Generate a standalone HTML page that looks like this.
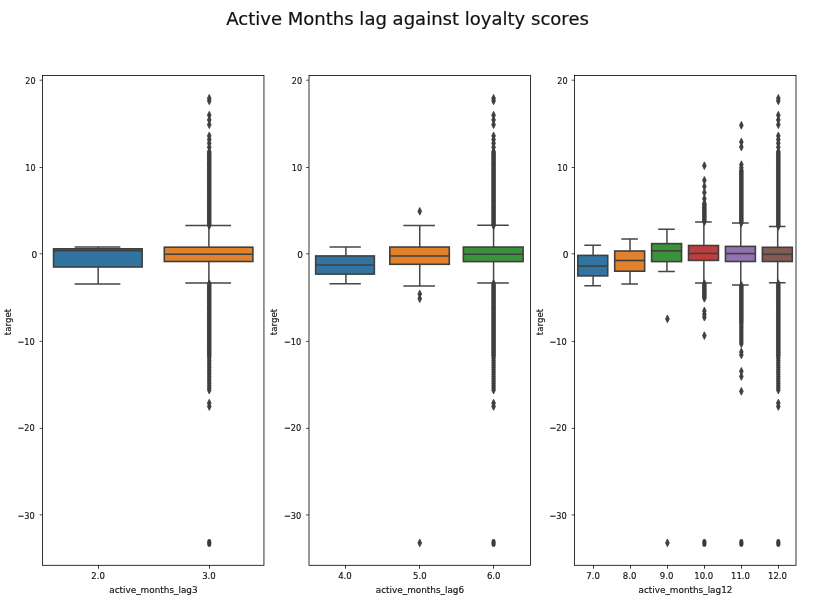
<!DOCTYPE html>
<html><head><meta charset="utf-8"><title>Active Months lag against loyalty scores</title>
<style>
html,body{margin:0;padding:0;background:#fff;}
body{width:825px;height:608px;overflow:hidden;}
svg{display:block;font-family:"DejaVu Sans","Liberation Sans",sans-serif;}
.t{font-size:9px;fill:#111;stroke:#111;stroke-width:0.15px;}
.tk{font-size:9px;fill:#111;stroke:#111;stroke-width:0.15px;}
</style></head><body>
<svg width="825" height="608" viewBox="0 0 825 608">
<rect width="825" height="608" fill="#fff"/>
<text x="407.55" y="24.9" text-anchor="middle" font-size="18.045px" fill="#111" stroke="#111" stroke-width="0.2">Active Months lag against loyalty scores</text>

<g>
<path d="M98.16,247.10V248.80M98.16,267.00V284.10M75.32,247.10H119.61M75.32,284.10H119.61" stroke="#464646" stroke-width="1.5" stroke-linecap="square" fill="none"/>
<rect x="53.57" y="248.80" width="88.58" height="18.20" fill="#3274a1" stroke="#3f3f3f" stroke-width="1.6"/>
<path d="M53.57,250.60H142.15" stroke="#3f3f3f" stroke-width="1.6" fill="none"/>
<path d="M208.89,225.50V247.20M208.89,261.50V283.00M186.04,225.50H230.33M186.04,283.00H230.33" stroke="#464646" stroke-width="1.5" stroke-linecap="square" fill="none"/>
<rect x="164.30" y="247.20" width="88.58" height="14.30" fill="#e1812c" stroke="#3f3f3f" stroke-width="1.6"/>
<path d="M164.30,254.30H252.88" stroke="#3f3f3f" stroke-width="1.6" fill="none"/>
<path d="M209.25,94.45L211.10,98.30L209.25,102.15L207.40,98.30ZM209.25,97.05L211.10,100.90L209.25,104.75L207.40,100.90ZM209.25,111.35L211.10,115.20L209.25,119.05L207.40,115.20ZM209.25,116.05L211.10,119.90L209.25,123.75L207.40,119.90ZM209.25,120.85L211.10,124.70L209.25,128.55L207.40,124.70ZM209.25,132.05L211.10,135.90L209.25,139.75L207.40,135.90ZM209.25,135.75L211.10,139.60L209.25,143.45L207.40,139.60ZM209.25,139.45L211.10,143.30L209.25,147.15L207.40,143.30ZM209.25,143.35L211.10,147.20L209.25,151.05L207.40,147.20ZM209.25,147.65L211.10,151.50L209.25,155.35L207.40,151.50ZM209.25,148.84L211.10,152.69L209.25,156.54L207.40,152.69ZM209.25,150.04L211.10,153.89L209.25,157.74L207.40,153.89ZM209.25,151.23L211.10,155.08L209.25,158.93L207.40,155.08ZM209.25,152.42L211.10,156.27L209.25,160.12L207.40,156.27ZM209.25,153.62L211.10,157.47L209.25,161.32L207.40,157.47ZM209.25,154.81L211.10,158.66L209.25,162.51L207.40,158.66ZM209.25,156.00L211.10,159.85L209.25,163.70L207.40,159.85ZM209.25,157.20L211.10,161.05L209.25,164.90L207.40,161.05ZM209.25,158.39L211.10,162.24L209.25,166.09L207.40,162.24ZM209.25,159.59L211.10,163.44L209.25,167.29L207.40,163.44ZM209.25,160.78L211.10,164.63L209.25,168.48L207.40,164.63ZM209.25,161.97L211.10,165.82L209.25,169.67L207.40,165.82ZM209.25,163.17L211.10,167.02L209.25,170.87L207.40,167.02ZM209.25,164.36L211.10,168.21L209.25,172.06L207.40,168.21ZM209.25,165.55L211.10,169.40L209.25,173.25L207.40,169.40ZM209.25,166.75L211.10,170.60L209.25,174.45L207.40,170.60ZM209.25,167.94L211.10,171.79L209.25,175.64L207.40,171.79ZM209.25,169.13L211.10,172.98L209.25,176.83L207.40,172.98ZM209.25,170.33L211.10,174.18L209.25,178.03L207.40,174.18ZM209.25,171.52L211.10,175.37L209.25,179.22L207.40,175.37ZM209.25,172.71L211.10,176.56L209.25,180.41L207.40,176.56ZM209.25,173.91L211.10,177.76L209.25,181.61L207.40,177.76ZM209.25,175.10L211.10,178.95L209.25,182.80L207.40,178.95ZM209.25,176.30L211.10,180.15L209.25,184.00L207.40,180.15ZM209.25,177.49L211.10,181.34L209.25,185.19L207.40,181.34ZM209.25,178.68L211.10,182.53L209.25,186.38L207.40,182.53ZM209.25,179.88L211.10,183.73L209.25,187.58L207.40,183.73ZM209.25,181.07L211.10,184.92L209.25,188.77L207.40,184.92ZM209.25,182.26L211.10,186.11L209.25,189.96L207.40,186.11ZM209.25,183.46L211.10,187.31L209.25,191.16L207.40,187.31ZM209.25,184.65L211.10,188.50L209.25,192.35L207.40,188.50ZM209.25,185.84L211.10,189.69L209.25,193.54L207.40,189.69ZM209.25,187.04L211.10,190.89L209.25,194.74L207.40,190.89ZM209.25,188.23L211.10,192.08L209.25,195.93L207.40,192.08ZM209.25,189.42L211.10,193.27L209.25,197.12L207.40,193.27ZM209.25,190.62L211.10,194.47L209.25,198.32L207.40,194.47ZM209.25,191.81L211.10,195.66L209.25,199.51L207.40,195.66ZM209.25,193.00L211.10,196.85L209.25,200.70L207.40,196.85ZM209.25,194.20L211.10,198.05L209.25,201.90L207.40,198.05ZM209.25,195.39L211.10,199.24L209.25,203.09L207.40,199.24ZM209.25,196.59L211.10,200.44L209.25,204.29L207.40,200.44ZM209.25,197.78L211.10,201.63L209.25,205.48L207.40,201.63ZM209.25,198.97L211.10,202.82L209.25,206.67L207.40,202.82ZM209.25,200.17L211.10,204.02L209.25,207.87L207.40,204.02ZM209.25,201.36L211.10,205.21L209.25,209.06L207.40,205.21ZM209.25,202.55L211.10,206.40L209.25,210.25L207.40,206.40ZM209.25,203.75L211.10,207.60L209.25,211.45L207.40,207.60ZM209.25,204.94L211.10,208.79L209.25,212.64L207.40,208.79ZM209.25,206.13L211.10,209.98L209.25,213.83L207.40,209.98ZM209.25,207.33L211.10,211.18L209.25,215.03L207.40,211.18ZM209.25,208.52L211.10,212.37L209.25,216.22L207.40,212.37ZM209.25,209.71L211.10,213.56L209.25,217.41L207.40,213.56ZM209.25,210.91L211.10,214.76L209.25,218.61L207.40,214.76ZM209.25,212.10L211.10,215.95L209.25,219.80L207.40,215.95ZM209.25,213.30L211.10,217.15L209.25,221.00L207.40,217.15ZM209.25,214.49L211.10,218.34L209.25,222.19L207.40,218.34ZM209.25,215.68L211.10,219.53L209.25,223.38L207.40,219.53ZM209.25,216.88L211.10,220.73L209.25,224.58L207.40,220.73ZM209.25,218.07L211.10,221.92L209.25,225.77L207.40,221.92ZM209.25,219.26L211.10,223.11L209.25,226.96L207.40,223.11ZM209.25,220.46L211.10,224.31L209.25,228.16L207.40,224.31ZM209.25,221.65L211.10,225.50L209.25,229.35L207.40,225.50ZM209.25,279.75L211.10,283.60L209.25,287.45L207.40,283.60ZM209.25,280.94L211.10,284.79L209.25,288.64L207.40,284.79ZM209.25,282.13L211.10,285.98L209.25,289.83L207.40,285.98ZM209.25,283.33L211.10,287.18L209.25,291.03L207.40,287.18ZM209.25,284.52L211.10,288.37L209.25,292.22L207.40,288.37ZM209.25,285.71L211.10,289.56L209.25,293.41L207.40,289.56ZM209.25,286.90L211.10,290.75L209.25,294.60L207.40,290.75ZM209.25,288.09L211.10,291.94L209.25,295.79L207.40,291.94ZM209.25,289.28L211.10,293.13L209.25,296.98L207.40,293.13ZM209.25,290.48L211.10,294.33L209.25,298.18L207.40,294.33ZM209.25,291.67L211.10,295.52L209.25,299.37L207.40,295.52ZM209.25,292.86L211.10,296.71L209.25,300.56L207.40,296.71ZM209.25,294.05L211.10,297.90L209.25,301.75L207.40,297.90ZM209.25,295.24L211.10,299.09L209.25,302.94L207.40,299.09ZM209.25,296.44L211.10,300.29L209.25,304.14L207.40,300.29ZM209.25,297.63L211.10,301.48L209.25,305.33L207.40,301.48ZM209.25,298.82L211.10,302.67L209.25,306.52L207.40,302.67ZM209.25,300.01L211.10,303.86L209.25,307.71L207.40,303.86ZM209.25,301.20L211.10,305.05L209.25,308.90L207.40,305.05ZM209.25,302.39L211.10,306.24L209.25,310.09L207.40,306.24ZM209.25,303.59L211.10,307.44L209.25,311.29L207.40,307.44ZM209.25,304.78L211.10,308.63L209.25,312.48L207.40,308.63ZM209.25,305.97L211.10,309.82L209.25,313.67L207.40,309.82ZM209.25,307.16L211.10,311.01L209.25,314.86L207.40,311.01ZM209.25,308.35L211.10,312.20L209.25,316.05L207.40,312.20ZM209.25,309.55L211.10,313.40L209.25,317.25L207.40,313.40ZM209.25,310.74L211.10,314.59L209.25,318.44L207.40,314.59ZM209.25,311.93L211.10,315.78L209.25,319.63L207.40,315.78ZM209.25,313.12L211.10,316.97L209.25,320.82L207.40,316.97ZM209.25,314.31L211.10,318.16L209.25,322.01L207.40,318.16ZM209.25,315.50L211.10,319.35L209.25,323.20L207.40,319.35ZM209.25,316.70L211.10,320.55L209.25,324.40L207.40,320.55ZM209.25,317.89L211.10,321.74L209.25,325.59L207.40,321.74ZM209.25,319.08L211.10,322.93L209.25,326.78L207.40,322.93ZM209.25,320.27L211.10,324.12L209.25,327.97L207.40,324.12ZM209.25,321.46L211.10,325.31L209.25,329.16L207.40,325.31ZM209.25,322.65L211.10,326.50L209.25,330.35L207.40,326.50ZM209.25,323.85L211.10,327.70L209.25,331.55L207.40,327.70ZM209.25,325.04L211.10,328.89L209.25,332.74L207.40,328.89ZM209.25,326.23L211.10,330.08L209.25,333.93L207.40,330.08ZM209.25,327.42L211.10,331.27L209.25,335.12L207.40,331.27ZM209.25,328.61L211.10,332.46L209.25,336.31L207.40,332.46ZM209.25,329.81L211.10,333.66L209.25,337.51L207.40,333.66ZM209.25,331.00L211.10,334.85L209.25,338.70L207.40,334.85ZM209.25,332.19L211.10,336.04L209.25,339.89L207.40,336.04ZM209.25,333.38L211.10,337.23L209.25,341.08L207.40,337.23ZM209.25,334.57L211.10,338.42L209.25,342.27L207.40,338.42ZM209.25,335.76L211.10,339.61L209.25,343.46L207.40,339.61ZM209.25,336.96L211.10,340.81L209.25,344.66L207.40,340.81ZM209.25,338.15L211.10,342.00L209.25,345.85L207.40,342.00ZM209.25,339.34L211.10,343.19L209.25,347.04L207.40,343.19ZM209.25,340.53L211.10,344.38L209.25,348.23L207.40,344.38ZM209.25,341.72L211.10,345.57L209.25,349.42L207.40,345.57ZM209.25,342.92L211.10,346.77L209.25,350.62L207.40,346.77ZM209.25,344.11L211.10,347.96L209.25,351.81L207.40,347.96ZM209.25,345.30L211.10,349.15L209.25,353.00L207.40,349.15ZM209.25,346.49L211.10,350.34L209.25,354.19L207.40,350.34ZM209.25,347.68L211.10,351.53L209.25,355.38L207.40,351.53ZM209.25,348.87L211.10,352.72L209.25,356.57L207.40,352.72ZM209.25,350.07L211.10,353.92L209.25,357.77L207.40,353.92ZM209.25,351.26L211.10,355.11L209.25,358.96L207.40,355.11ZM209.25,352.45L211.10,356.30L209.25,360.15L207.40,356.30ZM209.25,354.45L211.10,358.30L209.25,362.15L207.40,358.30ZM209.25,356.72L211.10,360.57L209.25,364.42L207.40,360.57ZM209.25,358.99L211.10,362.84L209.25,366.69L207.40,362.84ZM209.25,361.26L211.10,365.11L209.25,368.96L207.40,365.11ZM209.25,363.54L211.10,367.39L209.25,371.24L207.40,367.39ZM209.25,365.81L211.10,369.66L209.25,373.51L207.40,369.66ZM209.25,368.08L211.10,371.93L209.25,375.78L207.40,371.93ZM209.25,370.35L211.10,374.20L209.25,378.05L207.40,374.20ZM209.25,372.62L211.10,376.47L209.25,380.32L207.40,376.47ZM209.25,374.89L211.10,378.74L209.25,382.59L207.40,378.74ZM209.25,377.16L211.10,381.01L209.25,384.86L207.40,381.01ZM209.25,379.44L211.10,383.29L209.25,387.14L207.40,383.29ZM209.25,381.71L211.10,385.56L209.25,389.41L207.40,385.56ZM209.25,383.98L211.10,387.83L209.25,391.68L207.40,387.83ZM209.25,386.25L211.10,390.10L209.25,393.95L207.40,390.10ZM209.25,399.25L211.10,403.10L209.25,406.95L207.40,403.10ZM209.25,402.65L211.10,406.50L209.25,410.35L207.40,406.50Z" fill="#3f3f3f" stroke="#3f3f3f" stroke-width="0.85" stroke-linejoin="miter"/>
<ellipse cx="209.25" cy="542.90" rx="2.15" ry="3.9" fill="#3a3a3a"/>
<rect x="42.50" y="75.5" width="221.45" height="489.80" fill="none" stroke="#000" stroke-width="0.8"/>
<path d="M39.60,80.20H42.50" stroke="#222" stroke-width="0.8"/>
<text class="tk" transform="translate(35.55,83.90) scale(0.9,1.05)" text-anchor="end">20</text>
<path d="M39.60,167.50H42.50" stroke="#222" stroke-width="0.8"/>
<text class="tk" transform="translate(35.60,171.45) scale(0.9,1.05)" text-anchor="end">10</text>
<path d="M39.60,253.80H42.50" stroke="#222" stroke-width="0.8"/>
<text class="tk" transform="translate(37.35,257.85) scale(1.0,1.05)" text-anchor="end">0</text>
<path d="M39.60,341.40H42.50" stroke="#222" stroke-width="0.8"/>
<text class="tk" transform="translate(34.85,345.10) scale(0.915,1.05)" text-anchor="end">−10</text>
<path d="M39.60,428.40H42.50" stroke="#222" stroke-width="0.8"/>
<text class="tk" transform="translate(34.85,431.45) scale(0.915,1.05)" text-anchor="end">−20</text>
<path d="M39.60,514.90H42.50" stroke="#222" stroke-width="0.8"/>
<text class="tk" transform="translate(34.80,518.85) scale(0.915,1.05)" text-anchor="end">−30</text>
<path d="M98.50,565.3V568.70" stroke="#000" stroke-width="0.8"/>
<text class="tk" transform="translate(98.07,579.3) scale(0.95,1.05)" text-anchor="middle">2.0</text>
<path d="M209.50,565.3V568.70" stroke="#000" stroke-width="0.8"/>
<text class="tk" transform="translate(208.97,579.3) scale(0.95,1.05)" text-anchor="middle">3.0</text>
<text class="t" transform="translate(153.42,592.7) scale(0.986,1.03)" text-anchor="middle">active_months_lag3</text>
<text class="t" transform="translate(10.90,322.00) rotate(-90) scale(0.97,1)" text-anchor="middle">target</text>
</g>
<g>
<path d="M345.92,246.90V255.95M345.92,274.10V283.80M330.25,246.90H360.08M330.25,283.80H360.08" stroke="#464646" stroke-width="1.5" stroke-linecap="square" fill="none"/>
<rect x="315.68" y="255.95" width="58.67" height="18.15" fill="#3274a1" stroke="#3f3f3f" stroke-width="1.6"/>
<path d="M315.68,265.00H374.35" stroke="#3f3f3f" stroke-width="1.6" fill="none"/>
<path d="M419.75,225.50V247.05M419.75,264.30V285.90M404.08,225.50H434.22M404.08,285.90H434.22" stroke="#464646" stroke-width="1.5" stroke-linecap="square" fill="none"/>
<rect x="389.82" y="247.05" width="59.47" height="17.25" fill="#e1812c" stroke="#3f3f3f" stroke-width="1.6"/>
<path d="M389.82,255.95H449.28" stroke="#3f3f3f" stroke-width="1.6" fill="none"/>
<path d="M419.75,207.45L421.60,211.30L419.75,215.15L417.90,211.30ZM419.75,290.15L421.60,294.00L419.75,297.85L417.90,294.00ZM419.75,294.85L421.60,298.70L419.75,302.55L417.90,298.70ZM419.75,539.05L421.60,542.90L419.75,546.75L417.90,542.90Z" fill="#3f3f3f" stroke="#3f3f3f" stroke-width="0.85" stroke-linejoin="miter"/>
<path d="M493.58,225.30V247.05M493.58,261.60V283.00M477.92,225.30H508.05M477.92,283.00H508.05" stroke="#464646" stroke-width="1.5" stroke-linecap="square" fill="none"/>
<rect x="463.35" y="247.05" width="59.77" height="14.55" fill="#3a923a" stroke="#3f3f3f" stroke-width="1.6"/>
<path d="M463.35,254.20H523.12" stroke="#3f3f3f" stroke-width="1.6" fill="none"/>
<path d="M493.58,94.45L495.43,98.30L493.58,102.15L491.73,98.30ZM493.58,97.05L495.43,100.90L493.58,104.75L491.73,100.90ZM493.58,111.35L495.43,115.20L493.58,119.05L491.73,115.20ZM493.58,116.05L495.43,119.90L493.58,123.75L491.73,119.90ZM493.58,120.85L495.43,124.70L493.58,128.55L491.73,124.70ZM493.58,132.05L495.43,135.90L493.58,139.75L491.73,135.90ZM493.58,135.75L495.43,139.60L493.58,143.45L491.73,139.60ZM493.58,139.45L495.43,143.30L493.58,147.15L491.73,143.30ZM493.58,143.35L495.43,147.20L493.58,151.05L491.73,147.20ZM493.58,147.65L495.43,151.50L493.58,155.35L491.73,151.50ZM493.58,148.84L495.43,152.69L493.58,156.54L491.73,152.69ZM493.58,150.04L495.43,153.89L493.58,157.74L491.73,153.89ZM493.58,151.23L495.43,155.08L493.58,158.93L491.73,155.08ZM493.58,152.42L495.43,156.27L493.58,160.12L491.73,156.27ZM493.58,153.62L495.43,157.47L493.58,161.32L491.73,157.47ZM493.58,154.81L495.43,158.66L493.58,162.51L491.73,158.66ZM493.58,156.00L495.43,159.85L493.58,163.70L491.73,159.85ZM493.58,157.20L495.43,161.05L493.58,164.90L491.73,161.05ZM493.58,158.39L495.43,162.24L493.58,166.09L491.73,162.24ZM493.58,159.59L495.43,163.44L493.58,167.29L491.73,163.44ZM493.58,160.78L495.43,164.63L493.58,168.48L491.73,164.63ZM493.58,161.97L495.43,165.82L493.58,169.67L491.73,165.82ZM493.58,163.17L495.43,167.02L493.58,170.87L491.73,167.02ZM493.58,164.36L495.43,168.21L493.58,172.06L491.73,168.21ZM493.58,165.55L495.43,169.40L493.58,173.25L491.73,169.40ZM493.58,166.75L495.43,170.60L493.58,174.45L491.73,170.60ZM493.58,167.94L495.43,171.79L493.58,175.64L491.73,171.79ZM493.58,169.13L495.43,172.98L493.58,176.83L491.73,172.98ZM493.58,170.33L495.43,174.18L493.58,178.03L491.73,174.18ZM493.58,171.52L495.43,175.37L493.58,179.22L491.73,175.37ZM493.58,172.71L495.43,176.56L493.58,180.41L491.73,176.56ZM493.58,173.91L495.43,177.76L493.58,181.61L491.73,177.76ZM493.58,175.10L495.43,178.95L493.58,182.80L491.73,178.95ZM493.58,176.30L495.43,180.15L493.58,184.00L491.73,180.15ZM493.58,177.49L495.43,181.34L493.58,185.19L491.73,181.34ZM493.58,178.68L495.43,182.53L493.58,186.38L491.73,182.53ZM493.58,179.88L495.43,183.73L493.58,187.58L491.73,183.73ZM493.58,181.07L495.43,184.92L493.58,188.77L491.73,184.92ZM493.58,182.26L495.43,186.11L493.58,189.96L491.73,186.11ZM493.58,183.46L495.43,187.31L493.58,191.16L491.73,187.31ZM493.58,184.65L495.43,188.50L493.58,192.35L491.73,188.50ZM493.58,185.84L495.43,189.69L493.58,193.54L491.73,189.69ZM493.58,187.04L495.43,190.89L493.58,194.74L491.73,190.89ZM493.58,188.23L495.43,192.08L493.58,195.93L491.73,192.08ZM493.58,189.42L495.43,193.27L493.58,197.12L491.73,193.27ZM493.58,190.62L495.43,194.47L493.58,198.32L491.73,194.47ZM493.58,191.81L495.43,195.66L493.58,199.51L491.73,195.66ZM493.58,193.00L495.43,196.85L493.58,200.70L491.73,196.85ZM493.58,194.20L495.43,198.05L493.58,201.90L491.73,198.05ZM493.58,195.39L495.43,199.24L493.58,203.09L491.73,199.24ZM493.58,196.59L495.43,200.44L493.58,204.29L491.73,200.44ZM493.58,197.78L495.43,201.63L493.58,205.48L491.73,201.63ZM493.58,198.97L495.43,202.82L493.58,206.67L491.73,202.82ZM493.58,200.17L495.43,204.02L493.58,207.87L491.73,204.02ZM493.58,201.36L495.43,205.21L493.58,209.06L491.73,205.21ZM493.58,202.55L495.43,206.40L493.58,210.25L491.73,206.40ZM493.58,203.75L495.43,207.60L493.58,211.45L491.73,207.60ZM493.58,204.94L495.43,208.79L493.58,212.64L491.73,208.79ZM493.58,206.13L495.43,209.98L493.58,213.83L491.73,209.98ZM493.58,207.33L495.43,211.18L493.58,215.03L491.73,211.18ZM493.58,208.52L495.43,212.37L493.58,216.22L491.73,212.37ZM493.58,209.71L495.43,213.56L493.58,217.41L491.73,213.56ZM493.58,210.91L495.43,214.76L493.58,218.61L491.73,214.76ZM493.58,212.10L495.43,215.95L493.58,219.80L491.73,215.95ZM493.58,213.30L495.43,217.15L493.58,221.00L491.73,217.15ZM493.58,214.49L495.43,218.34L493.58,222.19L491.73,218.34ZM493.58,215.68L495.43,219.53L493.58,223.38L491.73,219.53ZM493.58,216.88L495.43,220.73L493.58,224.58L491.73,220.73ZM493.58,218.07L495.43,221.92L493.58,225.77L491.73,221.92ZM493.58,219.26L495.43,223.11L493.58,226.96L491.73,223.11ZM493.58,220.46L495.43,224.31L493.58,228.16L491.73,224.31ZM493.58,221.65L495.43,225.50L493.58,229.35L491.73,225.50ZM493.58,279.75L495.43,283.60L493.58,287.45L491.73,283.60ZM493.58,280.94L495.43,284.79L493.58,288.64L491.73,284.79ZM493.58,282.13L495.43,285.98L493.58,289.83L491.73,285.98ZM493.58,283.33L495.43,287.18L493.58,291.03L491.73,287.18ZM493.58,284.52L495.43,288.37L493.58,292.22L491.73,288.37ZM493.58,285.71L495.43,289.56L493.58,293.41L491.73,289.56ZM493.58,286.90L495.43,290.75L493.58,294.60L491.73,290.75ZM493.58,288.09L495.43,291.94L493.58,295.79L491.73,291.94ZM493.58,289.28L495.43,293.13L493.58,296.98L491.73,293.13ZM493.58,290.48L495.43,294.33L493.58,298.18L491.73,294.33ZM493.58,291.67L495.43,295.52L493.58,299.37L491.73,295.52ZM493.58,292.86L495.43,296.71L493.58,300.56L491.73,296.71ZM493.58,294.05L495.43,297.90L493.58,301.75L491.73,297.90ZM493.58,295.24L495.43,299.09L493.58,302.94L491.73,299.09ZM493.58,296.44L495.43,300.29L493.58,304.14L491.73,300.29ZM493.58,297.63L495.43,301.48L493.58,305.33L491.73,301.48ZM493.58,298.82L495.43,302.67L493.58,306.52L491.73,302.67ZM493.58,300.01L495.43,303.86L493.58,307.71L491.73,303.86ZM493.58,301.20L495.43,305.05L493.58,308.90L491.73,305.05ZM493.58,302.39L495.43,306.24L493.58,310.09L491.73,306.24ZM493.58,303.59L495.43,307.44L493.58,311.29L491.73,307.44ZM493.58,304.78L495.43,308.63L493.58,312.48L491.73,308.63ZM493.58,305.97L495.43,309.82L493.58,313.67L491.73,309.82ZM493.58,307.16L495.43,311.01L493.58,314.86L491.73,311.01ZM493.58,308.35L495.43,312.20L493.58,316.05L491.73,312.20ZM493.58,309.55L495.43,313.40L493.58,317.25L491.73,313.40ZM493.58,310.74L495.43,314.59L493.58,318.44L491.73,314.59ZM493.58,311.93L495.43,315.78L493.58,319.63L491.73,315.78ZM493.58,313.12L495.43,316.97L493.58,320.82L491.73,316.97ZM493.58,314.31L495.43,318.16L493.58,322.01L491.73,318.16ZM493.58,315.50L495.43,319.35L493.58,323.20L491.73,319.35ZM493.58,316.70L495.43,320.55L493.58,324.40L491.73,320.55ZM493.58,317.89L495.43,321.74L493.58,325.59L491.73,321.74ZM493.58,319.08L495.43,322.93L493.58,326.78L491.73,322.93ZM493.58,320.27L495.43,324.12L493.58,327.97L491.73,324.12ZM493.58,321.46L495.43,325.31L493.58,329.16L491.73,325.31ZM493.58,322.65L495.43,326.50L493.58,330.35L491.73,326.50ZM493.58,323.85L495.43,327.70L493.58,331.55L491.73,327.70ZM493.58,325.04L495.43,328.89L493.58,332.74L491.73,328.89ZM493.58,326.23L495.43,330.08L493.58,333.93L491.73,330.08ZM493.58,327.42L495.43,331.27L493.58,335.12L491.73,331.27ZM493.58,328.61L495.43,332.46L493.58,336.31L491.73,332.46ZM493.58,329.81L495.43,333.66L493.58,337.51L491.73,333.66ZM493.58,331.00L495.43,334.85L493.58,338.70L491.73,334.85ZM493.58,332.19L495.43,336.04L493.58,339.89L491.73,336.04ZM493.58,333.38L495.43,337.23L493.58,341.08L491.73,337.23ZM493.58,334.57L495.43,338.42L493.58,342.27L491.73,338.42ZM493.58,335.76L495.43,339.61L493.58,343.46L491.73,339.61ZM493.58,336.96L495.43,340.81L493.58,344.66L491.73,340.81ZM493.58,338.15L495.43,342.00L493.58,345.85L491.73,342.00ZM493.58,339.34L495.43,343.19L493.58,347.04L491.73,343.19ZM493.58,340.53L495.43,344.38L493.58,348.23L491.73,344.38ZM493.58,341.72L495.43,345.57L493.58,349.42L491.73,345.57ZM493.58,342.92L495.43,346.77L493.58,350.62L491.73,346.77ZM493.58,344.11L495.43,347.96L493.58,351.81L491.73,347.96ZM493.58,345.30L495.43,349.15L493.58,353.00L491.73,349.15ZM493.58,346.49L495.43,350.34L493.58,354.19L491.73,350.34ZM493.58,347.68L495.43,351.53L493.58,355.38L491.73,351.53ZM493.58,348.87L495.43,352.72L493.58,356.57L491.73,352.72ZM493.58,350.07L495.43,353.92L493.58,357.77L491.73,353.92ZM493.58,351.26L495.43,355.11L493.58,358.96L491.73,355.11ZM493.58,352.45L495.43,356.30L493.58,360.15L491.73,356.30ZM493.58,354.45L495.43,358.30L493.58,362.15L491.73,358.30ZM493.58,356.72L495.43,360.57L493.58,364.42L491.73,360.57ZM493.58,358.99L495.43,362.84L493.58,366.69L491.73,362.84ZM493.58,361.26L495.43,365.11L493.58,368.96L491.73,365.11ZM493.58,363.54L495.43,367.39L493.58,371.24L491.73,367.39ZM493.58,365.81L495.43,369.66L493.58,373.51L491.73,369.66ZM493.58,368.08L495.43,371.93L493.58,375.78L491.73,371.93ZM493.58,370.35L495.43,374.20L493.58,378.05L491.73,374.20ZM493.58,372.62L495.43,376.47L493.58,380.32L491.73,376.47ZM493.58,374.89L495.43,378.74L493.58,382.59L491.73,378.74ZM493.58,377.16L495.43,381.01L493.58,384.86L491.73,381.01ZM493.58,379.44L495.43,383.29L493.58,387.14L491.73,383.29ZM493.58,381.71L495.43,385.56L493.58,389.41L491.73,385.56ZM493.58,383.98L495.43,387.83L493.58,391.68L491.73,387.83ZM493.58,386.25L495.43,390.10L493.58,393.95L491.73,390.10ZM493.58,399.25L495.43,403.10L493.58,406.95L491.73,403.10ZM493.58,402.65L495.43,406.50L493.58,410.35L491.73,406.50Z" fill="#3f3f3f" stroke="#3f3f3f" stroke-width="0.85" stroke-linejoin="miter"/>
<ellipse cx="493.58" cy="542.90" rx="2.15" ry="3.9" fill="#3a3a3a"/>
<rect x="309.00" y="75.5" width="221.50" height="489.80" fill="none" stroke="#000" stroke-width="0.8"/>
<path d="M306.10,80.20H309.00" stroke="#222" stroke-width="0.8"/>
<text class="tk" transform="translate(302.05,83.90) scale(0.9,1.05)" text-anchor="end">20</text>
<path d="M306.10,167.50H309.00" stroke="#222" stroke-width="0.8"/>
<text class="tk" transform="translate(302.10,171.45) scale(0.9,1.05)" text-anchor="end">10</text>
<path d="M306.10,253.80H309.00" stroke="#222" stroke-width="0.8"/>
<text class="tk" transform="translate(302.95,257.85) scale(1.0,1.05)" text-anchor="end">0</text>
<path d="M306.10,341.40H309.00" stroke="#222" stroke-width="0.8"/>
<text class="tk" transform="translate(301.35,345.10) scale(0.915,1.05)" text-anchor="end">−10</text>
<path d="M306.10,428.40H309.00" stroke="#222" stroke-width="0.8"/>
<text class="tk" transform="translate(301.35,431.45) scale(0.915,1.05)" text-anchor="end">−20</text>
<path d="M306.10,514.90H309.00" stroke="#222" stroke-width="0.8"/>
<text class="tk" transform="translate(301.30,518.85) scale(0.915,1.05)" text-anchor="end">−30</text>
<path d="M345.50,565.3V568.70" stroke="#000" stroke-width="0.8"/>
<text class="tk" transform="translate(344.92,579.3) scale(0.95,1.05)" text-anchor="middle">4.0</text>
<path d="M419.50,565.3V568.70" stroke="#000" stroke-width="0.8"/>
<text class="tk" transform="translate(419.82,579.3) scale(0.95,1.05)" text-anchor="middle">5.0</text>
<path d="M493.50,565.3V568.70" stroke="#000" stroke-width="0.8"/>
<text class="tk" transform="translate(493.67,579.3) scale(0.95,1.05)" text-anchor="middle">6.0</text>
<text class="t" transform="translate(419.95,592.7) scale(0.986,1.03)" text-anchor="middle">active_months_lag6</text>
<text class="t" transform="translate(277.40,322.00) rotate(-90) scale(0.97,1)" text-anchor="middle">target</text>
</g>
<g>
<path d="M593.11,245.20V255.40M593.11,275.90V285.80M585.08,245.20H600.24M585.08,285.80H600.24" stroke="#464646" stroke-width="1.5" stroke-linecap="square" fill="none"/>
<rect x="577.79" y="255.40" width="29.93" height="20.50" fill="#3274a1" stroke="#3f3f3f" stroke-width="1.6"/>
<path d="M577.79,266.10H607.73" stroke="#3f3f3f" stroke-width="1.6" fill="none"/>
<path d="M630.02,239.00V251.00M630.02,271.20V284.00M621.99,239.00H637.16M621.99,284.00H637.16" stroke="#464646" stroke-width="1.5" stroke-linecap="square" fill="none"/>
<rect x="614.71" y="251.00" width="29.93" height="20.20" fill="#e1812c" stroke="#3f3f3f" stroke-width="1.6"/>
<path d="M614.71,260.50H644.64" stroke="#3f3f3f" stroke-width="1.6" fill="none"/>
<path d="M666.94,229.20V243.60M666.94,261.60V271.50M658.91,229.20H674.07M658.91,271.50H674.07" stroke="#464646" stroke-width="1.5" stroke-linecap="square" fill="none"/>
<rect x="651.62" y="243.60" width="29.93" height="18.00" fill="#3a923a" stroke="#3f3f3f" stroke-width="1.6"/>
<path d="M651.62,250.80H681.56" stroke="#3f3f3f" stroke-width="1.6" fill="none"/>
<path d="M667.42,315.05L669.27,318.90L667.42,322.75L665.57,318.90ZM667.42,539.05L669.27,542.90L667.42,546.75L665.57,542.90Z" fill="#3f3f3f" stroke="#3f3f3f" stroke-width="0.85" stroke-linejoin="miter"/>
<path d="M703.86,221.90V245.50M703.86,260.40V283.10M695.82,221.90H710.99M695.82,283.10H710.99" stroke="#464646" stroke-width="1.5" stroke-linecap="square" fill="none"/>
<rect x="688.54" y="245.50" width="29.93" height="14.90" fill="#c03d3e" stroke="#3f3f3f" stroke-width="1.6"/>
<path d="M688.54,253.45H718.47" stroke="#3f3f3f" stroke-width="1.6" fill="none"/>
<path d="M704.38,161.85L706.23,165.70L704.38,169.55L702.53,165.70ZM704.38,176.45L706.23,180.30L704.38,184.15L702.53,180.30ZM704.38,182.65L706.23,186.50L704.38,190.35L702.53,186.50ZM704.38,188.75L706.23,192.60L704.38,196.45L702.53,192.60ZM704.38,194.95L706.23,198.80L704.38,202.65L702.53,198.80ZM704.38,199.45L706.23,203.30L704.38,207.15L702.53,203.30ZM704.38,200.77L706.23,204.62L704.38,208.47L702.53,204.62ZM704.38,202.09L706.23,205.94L704.38,209.79L702.53,205.94ZM704.38,203.41L706.23,207.26L704.38,211.11L702.53,207.26ZM704.38,204.74L706.23,208.59L704.38,212.44L702.53,208.59ZM704.38,206.06L706.23,209.91L704.38,213.76L702.53,209.91ZM704.38,207.38L706.23,211.23L704.38,215.08L702.53,211.23ZM704.38,208.70L706.23,212.55L704.38,216.40L702.53,212.55ZM704.38,210.02L706.23,213.87L704.38,217.72L702.53,213.87ZM704.38,211.34L706.23,215.19L704.38,219.04L702.53,215.19ZM704.38,212.66L706.23,216.51L704.38,220.36L702.53,216.51ZM704.38,213.99L706.23,217.84L704.38,221.69L702.53,217.84ZM704.38,215.31L706.23,219.16L704.38,223.01L702.53,219.16ZM704.38,216.63L706.23,220.48L704.38,224.33L702.53,220.48ZM704.38,217.95L706.23,221.80L704.38,225.65L702.53,221.80ZM704.38,279.75L706.23,283.60L704.38,287.45L702.53,283.60ZM704.38,280.98L706.23,284.83L704.38,288.68L702.53,284.83ZM704.38,282.20L706.23,286.05L704.38,289.90L702.53,286.05ZM704.38,283.43L706.23,287.28L704.38,291.13L702.53,287.28ZM704.38,284.65L706.23,288.50L704.38,292.35L702.53,288.50ZM704.38,285.88L706.23,289.73L704.38,293.58L702.53,289.73ZM704.38,287.10L706.23,290.95L704.38,294.80L702.53,290.95ZM704.38,288.32L706.23,292.18L704.38,296.03L702.53,292.18ZM704.38,289.55L706.23,293.40L704.38,297.25L702.53,293.40ZM704.38,290.77L706.23,294.62L704.38,298.48L702.53,294.62ZM704.38,292.00L706.23,295.85L704.38,299.70L702.53,295.85ZM704.38,293.22L706.23,297.07L704.38,300.93L702.53,297.07ZM704.38,294.45L706.23,298.30L704.38,302.15L702.53,298.30ZM704.38,307.05L706.23,310.90L704.38,314.75L702.53,310.90ZM704.38,310.35L706.23,314.20L704.38,318.05L702.53,314.20ZM704.38,313.35L706.23,317.20L704.38,321.05L702.53,317.20ZM704.38,331.75L706.23,335.60L704.38,339.45L702.53,335.60Z" fill="#3f3f3f" stroke="#3f3f3f" stroke-width="0.85" stroke-linejoin="miter"/>
<ellipse cx="704.38" cy="542.90" rx="2.15" ry="3.9" fill="#3a3a3a"/>
<path d="M740.77,222.90V246.40M740.77,261.50V285.00M732.74,222.90H747.91M732.74,285.00H747.91" stroke="#464646" stroke-width="1.5" stroke-linecap="square" fill="none"/>
<rect x="725.46" y="246.40" width="29.93" height="15.10" fill="#9372b2" stroke="#3f3f3f" stroke-width="1.6"/>
<path d="M725.46,253.60H755.39" stroke="#3f3f3f" stroke-width="1.6" fill="none"/>
<path d="M741.35,121.45L743.20,125.30L741.35,129.15L739.50,125.30ZM741.35,138.15L743.20,142.00L741.35,145.85L739.50,142.00ZM741.35,143.15L743.20,147.00L741.35,150.85L739.50,147.00ZM741.35,160.85L743.20,164.70L741.35,168.55L739.50,164.70ZM741.35,163.95L743.20,167.80L741.35,171.65L739.50,167.80ZM741.35,166.45L743.20,170.30L741.35,174.15L739.50,170.30ZM741.35,167.65L743.20,171.50L741.35,175.35L739.50,171.50ZM741.35,168.85L743.20,172.70L741.35,176.55L739.50,172.70ZM741.35,170.04L743.20,173.89L741.35,177.74L739.50,173.89ZM741.35,171.24L743.20,175.09L741.35,178.94L739.50,175.09ZM741.35,172.44L743.20,176.29L741.35,180.14L739.50,176.29ZM741.35,173.64L743.20,177.49L741.35,181.34L739.50,177.49ZM741.35,174.83L743.20,178.68L741.35,182.53L739.50,178.68ZM741.35,176.03L743.20,179.88L741.35,183.73L739.50,179.88ZM741.35,177.23L743.20,181.08L741.35,184.93L739.50,181.08ZM741.35,178.43L743.20,182.28L741.35,186.13L739.50,182.28ZM741.35,179.62L743.20,183.47L741.35,187.32L739.50,183.47ZM741.35,180.82L743.20,184.67L741.35,188.52L739.50,184.67ZM741.35,182.02L743.20,185.87L741.35,189.72L739.50,185.87ZM741.35,183.22L743.20,187.07L741.35,190.92L739.50,187.07ZM741.35,184.42L743.20,188.27L741.35,192.12L739.50,188.27ZM741.35,185.61L743.20,189.46L741.35,193.31L739.50,189.46ZM741.35,186.81L743.20,190.66L741.35,194.51L739.50,190.66ZM741.35,188.01L743.20,191.86L741.35,195.71L739.50,191.86ZM741.35,189.21L743.20,193.06L741.35,196.91L739.50,193.06ZM741.35,190.40L743.20,194.25L741.35,198.10L739.50,194.25ZM741.35,191.60L743.20,195.45L741.35,199.30L739.50,195.45ZM741.35,192.80L743.20,196.65L741.35,200.50L739.50,196.65ZM741.35,194.00L743.20,197.85L741.35,201.70L739.50,197.85ZM741.35,195.20L743.20,199.05L741.35,202.90L739.50,199.05ZM741.35,196.39L743.20,200.24L741.35,204.09L739.50,200.24ZM741.35,197.59L743.20,201.44L741.35,205.29L739.50,201.44ZM741.35,198.79L743.20,202.64L741.35,206.49L739.50,202.64ZM741.35,199.99L743.20,203.84L741.35,207.69L739.50,203.84ZM741.35,201.18L743.20,205.03L741.35,208.88L739.50,205.03ZM741.35,202.38L743.20,206.23L741.35,210.08L739.50,206.23ZM741.35,203.58L743.20,207.43L741.35,211.28L739.50,207.43ZM741.35,204.78L743.20,208.63L741.35,212.48L739.50,208.63ZM741.35,205.97L743.20,209.82L741.35,213.67L739.50,209.82ZM741.35,207.17L743.20,211.02L741.35,214.87L739.50,211.02ZM741.35,208.37L743.20,212.22L741.35,216.07L739.50,212.22ZM741.35,209.57L743.20,213.42L741.35,217.27L739.50,213.42ZM741.35,210.77L743.20,214.62L741.35,218.47L739.50,214.62ZM741.35,211.96L743.20,215.81L741.35,219.66L739.50,215.81ZM741.35,213.16L743.20,217.01L741.35,220.86L739.50,217.01ZM741.35,214.36L743.20,218.21L741.35,222.06L739.50,218.21ZM741.35,215.56L743.20,219.41L741.35,223.26L739.50,219.41ZM741.35,216.75L743.20,220.60L741.35,224.45L739.50,220.60ZM741.35,217.95L743.20,221.80L741.35,225.65L739.50,221.80ZM741.35,219.15L743.20,223.00L741.35,226.85L739.50,223.00ZM741.35,281.55L743.20,285.40L741.35,289.25L739.50,285.40ZM741.35,282.74L743.20,286.59L741.35,290.44L739.50,286.59ZM741.35,283.93L743.20,287.78L741.35,291.63L739.50,287.78ZM741.35,285.12L743.20,288.97L741.35,292.82L739.50,288.97ZM741.35,286.31L743.20,290.16L741.35,294.01L739.50,290.16ZM741.35,287.50L743.20,291.35L741.35,295.20L739.50,291.35ZM741.35,288.69L743.20,292.54L741.35,296.39L739.50,292.54ZM741.35,289.88L743.20,293.73L741.35,297.58L739.50,293.73ZM741.35,291.07L743.20,294.92L741.35,298.77L739.50,294.92ZM741.35,292.26L743.20,296.11L741.35,299.96L739.50,296.11ZM741.35,293.45L743.20,297.30L741.35,301.15L739.50,297.30ZM741.35,294.64L743.20,298.49L741.35,302.34L739.50,298.49ZM741.35,295.83L743.20,299.68L741.35,303.53L739.50,299.68ZM741.35,297.02L743.20,300.87L741.35,304.72L739.50,300.87ZM741.35,298.21L743.20,302.06L741.35,305.91L739.50,302.06ZM741.35,299.40L743.20,303.25L741.35,307.10L739.50,303.25ZM741.35,300.60L743.20,304.45L741.35,308.30L739.50,304.45ZM741.35,301.79L743.20,305.64L741.35,309.49L739.50,305.64ZM741.35,302.98L743.20,306.83L741.35,310.68L739.50,306.83ZM741.35,304.17L743.20,308.02L741.35,311.87L739.50,308.02ZM741.35,305.36L743.20,309.21L741.35,313.06L739.50,309.21ZM741.35,306.55L743.20,310.40L741.35,314.25L739.50,310.40ZM741.35,307.74L743.20,311.59L741.35,315.44L739.50,311.59ZM741.35,308.93L743.20,312.78L741.35,316.63L739.50,312.78ZM741.35,310.12L743.20,313.97L741.35,317.82L739.50,313.97ZM741.35,311.31L743.20,315.16L741.35,319.01L739.50,315.16ZM741.35,312.50L743.20,316.35L741.35,320.20L739.50,316.35ZM741.35,313.69L743.20,317.54L741.35,321.39L739.50,317.54ZM741.35,314.88L743.20,318.73L741.35,322.58L739.50,318.73ZM741.35,316.07L743.20,319.92L741.35,323.77L739.50,319.92ZM741.35,317.26L743.20,321.11L741.35,324.96L739.50,321.11ZM741.35,318.45L743.20,322.30L741.35,326.15L739.50,322.30ZM741.35,319.95L743.20,323.80L741.35,327.65L739.50,323.80ZM741.35,321.95L743.20,325.80L741.35,329.65L739.50,325.80ZM741.35,323.95L743.20,327.80L741.35,331.65L739.50,327.80ZM741.35,325.95L743.20,329.80L741.35,333.65L739.50,329.80ZM741.35,327.95L743.20,331.80L741.35,335.65L739.50,331.80ZM741.35,329.95L743.20,333.80L741.35,337.65L739.50,333.80ZM741.35,331.95L743.20,335.80L741.35,339.65L739.50,335.80ZM741.35,333.95L743.20,337.80L741.35,341.65L739.50,337.80ZM741.35,335.95L743.20,339.80L741.35,343.65L739.50,339.80ZM741.35,337.95L743.20,341.80L741.35,345.65L739.50,341.80ZM741.35,339.95L743.20,343.80L741.35,347.65L739.50,343.80ZM741.35,348.05L743.20,351.90L741.35,355.75L739.50,351.90ZM741.35,351.05L743.20,354.90L741.35,358.75L739.50,354.90ZM741.35,367.45L743.20,371.30L741.35,375.15L739.50,371.30ZM741.35,372.65L743.20,376.50L741.35,380.35L739.50,376.50ZM741.35,387.45L743.20,391.30L741.35,395.15L739.50,391.30Z" fill="#3f3f3f" stroke="#3f3f3f" stroke-width="0.85" stroke-linejoin="miter"/>
<ellipse cx="741.35" cy="542.90" rx="2.15" ry="3.9" fill="#3a3a3a"/>
<path d="M777.69,226.40V247.30M777.69,261.50V282.80M769.66,226.40H784.82M769.66,282.80H784.82" stroke="#464646" stroke-width="1.5" stroke-linecap="square" fill="none"/>
<rect x="762.38" y="247.30" width="29.93" height="14.20" fill="#845b53" stroke="#3f3f3f" stroke-width="1.6"/>
<path d="M762.38,254.30H792.31" stroke="#3f3f3f" stroke-width="1.6" fill="none"/>
<path d="M778.32,94.45L780.17,98.30L778.32,102.15L776.47,98.30ZM778.32,97.05L780.17,100.90L778.32,104.75L776.47,100.90ZM778.32,111.35L780.17,115.20L778.32,119.05L776.47,115.20ZM778.32,116.05L780.17,119.90L778.32,123.75L776.47,119.90ZM778.32,120.85L780.17,124.70L778.32,128.55L776.47,124.70ZM778.32,132.05L780.17,135.90L778.32,139.75L776.47,135.90ZM778.32,135.75L780.17,139.60L778.32,143.45L776.47,139.60ZM778.32,139.45L780.17,143.30L778.32,147.15L776.47,143.30ZM778.32,143.35L780.17,147.20L778.32,151.05L776.47,147.20ZM778.32,147.65L780.17,151.50L778.32,155.35L776.47,151.50ZM778.32,148.84L780.17,152.69L778.32,156.54L776.47,152.69ZM778.32,150.04L780.17,153.89L778.32,157.74L776.47,153.89ZM778.32,151.23L780.17,155.08L778.32,158.93L776.47,155.08ZM778.32,152.42L780.17,156.27L778.32,160.12L776.47,156.27ZM778.32,153.62L780.17,157.47L778.32,161.32L776.47,157.47ZM778.32,154.81L780.17,158.66L778.32,162.51L776.47,158.66ZM778.32,156.00L780.17,159.85L778.32,163.70L776.47,159.85ZM778.32,157.20L780.17,161.05L778.32,164.90L776.47,161.05ZM778.32,158.39L780.17,162.24L778.32,166.09L776.47,162.24ZM778.32,159.59L780.17,163.44L778.32,167.29L776.47,163.44ZM778.32,160.78L780.17,164.63L778.32,168.48L776.47,164.63ZM778.32,161.97L780.17,165.82L778.32,169.67L776.47,165.82ZM778.32,163.17L780.17,167.02L778.32,170.87L776.47,167.02ZM778.32,164.36L780.17,168.21L778.32,172.06L776.47,168.21ZM778.32,165.55L780.17,169.40L778.32,173.25L776.47,169.40ZM778.32,166.75L780.17,170.60L778.32,174.45L776.47,170.60ZM778.32,167.94L780.17,171.79L778.32,175.64L776.47,171.79ZM778.32,169.13L780.17,172.98L778.32,176.83L776.47,172.98ZM778.32,170.33L780.17,174.18L778.32,178.03L776.47,174.18ZM778.32,171.52L780.17,175.37L778.32,179.22L776.47,175.37ZM778.32,172.71L780.17,176.56L778.32,180.41L776.47,176.56ZM778.32,173.91L780.17,177.76L778.32,181.61L776.47,177.76ZM778.32,175.10L780.17,178.95L778.32,182.80L776.47,178.95ZM778.32,176.30L780.17,180.15L778.32,184.00L776.47,180.15ZM778.32,177.49L780.17,181.34L778.32,185.19L776.47,181.34ZM778.32,178.68L780.17,182.53L778.32,186.38L776.47,182.53ZM778.32,179.88L780.17,183.73L778.32,187.58L776.47,183.73ZM778.32,181.07L780.17,184.92L778.32,188.77L776.47,184.92ZM778.32,182.26L780.17,186.11L778.32,189.96L776.47,186.11ZM778.32,183.46L780.17,187.31L778.32,191.16L776.47,187.31ZM778.32,184.65L780.17,188.50L778.32,192.35L776.47,188.50ZM778.32,185.84L780.17,189.69L778.32,193.54L776.47,189.69ZM778.32,187.04L780.17,190.89L778.32,194.74L776.47,190.89ZM778.32,188.23L780.17,192.08L778.32,195.93L776.47,192.08ZM778.32,189.42L780.17,193.27L778.32,197.12L776.47,193.27ZM778.32,190.62L780.17,194.47L778.32,198.32L776.47,194.47ZM778.32,191.81L780.17,195.66L778.32,199.51L776.47,195.66ZM778.32,193.00L780.17,196.85L778.32,200.70L776.47,196.85ZM778.32,194.20L780.17,198.05L778.32,201.90L776.47,198.05ZM778.32,195.39L780.17,199.24L778.32,203.09L776.47,199.24ZM778.32,196.59L780.17,200.44L778.32,204.29L776.47,200.44ZM778.32,197.78L780.17,201.63L778.32,205.48L776.47,201.63ZM778.32,198.97L780.17,202.82L778.32,206.67L776.47,202.82ZM778.32,200.17L780.17,204.02L778.32,207.87L776.47,204.02ZM778.32,201.36L780.17,205.21L778.32,209.06L776.47,205.21ZM778.32,202.55L780.17,206.40L778.32,210.25L776.47,206.40ZM778.32,203.75L780.17,207.60L778.32,211.45L776.47,207.60ZM778.32,204.94L780.17,208.79L778.32,212.64L776.47,208.79ZM778.32,206.13L780.17,209.98L778.32,213.83L776.47,209.98ZM778.32,207.33L780.17,211.18L778.32,215.03L776.47,211.18ZM778.32,208.52L780.17,212.37L778.32,216.22L776.47,212.37ZM778.32,209.71L780.17,213.56L778.32,217.41L776.47,213.56ZM778.32,210.91L780.17,214.76L778.32,218.61L776.47,214.76ZM778.32,212.10L780.17,215.95L778.32,219.80L776.47,215.95ZM778.32,213.30L780.17,217.15L778.32,221.00L776.47,217.15ZM778.32,214.49L780.17,218.34L778.32,222.19L776.47,218.34ZM778.32,215.68L780.17,219.53L778.32,223.38L776.47,219.53ZM778.32,216.88L780.17,220.73L778.32,224.58L776.47,220.73ZM778.32,218.07L780.17,221.92L778.32,225.77L776.47,221.92ZM778.32,219.26L780.17,223.11L778.32,226.96L776.47,223.11ZM778.32,220.46L780.17,224.31L778.32,228.16L776.47,224.31ZM778.32,221.65L780.17,225.50L778.32,229.35L776.47,225.50ZM778.32,222.45L780.17,226.30L778.32,230.15L776.47,226.30ZM778.32,279.75L780.17,283.60L778.32,287.45L776.47,283.60ZM778.32,280.94L780.17,284.79L778.32,288.64L776.47,284.79ZM778.32,282.13L780.17,285.98L778.32,289.83L776.47,285.98ZM778.32,283.33L780.17,287.18L778.32,291.03L776.47,287.18ZM778.32,284.52L780.17,288.37L778.32,292.22L776.47,288.37ZM778.32,285.71L780.17,289.56L778.32,293.41L776.47,289.56ZM778.32,286.90L780.17,290.75L778.32,294.60L776.47,290.75ZM778.32,288.09L780.17,291.94L778.32,295.79L776.47,291.94ZM778.32,289.28L780.17,293.13L778.32,296.98L776.47,293.13ZM778.32,290.48L780.17,294.33L778.32,298.18L776.47,294.33ZM778.32,291.67L780.17,295.52L778.32,299.37L776.47,295.52ZM778.32,292.86L780.17,296.71L778.32,300.56L776.47,296.71ZM778.32,294.05L780.17,297.90L778.32,301.75L776.47,297.90ZM778.32,295.24L780.17,299.09L778.32,302.94L776.47,299.09ZM778.32,296.44L780.17,300.29L778.32,304.14L776.47,300.29ZM778.32,297.63L780.17,301.48L778.32,305.33L776.47,301.48ZM778.32,298.82L780.17,302.67L778.32,306.52L776.47,302.67ZM778.32,300.01L780.17,303.86L778.32,307.71L776.47,303.86ZM778.32,301.20L780.17,305.05L778.32,308.90L776.47,305.05ZM778.32,302.39L780.17,306.24L778.32,310.09L776.47,306.24ZM778.32,303.59L780.17,307.44L778.32,311.29L776.47,307.44ZM778.32,304.78L780.17,308.63L778.32,312.48L776.47,308.63ZM778.32,305.97L780.17,309.82L778.32,313.67L776.47,309.82ZM778.32,307.16L780.17,311.01L778.32,314.86L776.47,311.01ZM778.32,308.35L780.17,312.20L778.32,316.05L776.47,312.20ZM778.32,309.55L780.17,313.40L778.32,317.25L776.47,313.40ZM778.32,310.74L780.17,314.59L778.32,318.44L776.47,314.59ZM778.32,311.93L780.17,315.78L778.32,319.63L776.47,315.78ZM778.32,313.12L780.17,316.97L778.32,320.82L776.47,316.97ZM778.32,314.31L780.17,318.16L778.32,322.01L776.47,318.16ZM778.32,315.50L780.17,319.35L778.32,323.20L776.47,319.35ZM778.32,316.70L780.17,320.55L778.32,324.40L776.47,320.55ZM778.32,317.89L780.17,321.74L778.32,325.59L776.47,321.74ZM778.32,319.08L780.17,322.93L778.32,326.78L776.47,322.93ZM778.32,320.27L780.17,324.12L778.32,327.97L776.47,324.12ZM778.32,321.46L780.17,325.31L778.32,329.16L776.47,325.31ZM778.32,322.65L780.17,326.50L778.32,330.35L776.47,326.50ZM778.32,323.85L780.17,327.70L778.32,331.55L776.47,327.70ZM778.32,325.04L780.17,328.89L778.32,332.74L776.47,328.89ZM778.32,326.23L780.17,330.08L778.32,333.93L776.47,330.08ZM778.32,327.42L780.17,331.27L778.32,335.12L776.47,331.27ZM778.32,328.61L780.17,332.46L778.32,336.31L776.47,332.46ZM778.32,329.81L780.17,333.66L778.32,337.51L776.47,333.66ZM778.32,331.00L780.17,334.85L778.32,338.70L776.47,334.85ZM778.32,332.19L780.17,336.04L778.32,339.89L776.47,336.04ZM778.32,333.38L780.17,337.23L778.32,341.08L776.47,337.23ZM778.32,334.57L780.17,338.42L778.32,342.27L776.47,338.42ZM778.32,335.76L780.17,339.61L778.32,343.46L776.47,339.61ZM778.32,336.96L780.17,340.81L778.32,344.66L776.47,340.81ZM778.32,338.15L780.17,342.00L778.32,345.85L776.47,342.00ZM778.32,339.34L780.17,343.19L778.32,347.04L776.47,343.19ZM778.32,340.53L780.17,344.38L778.32,348.23L776.47,344.38ZM778.32,341.72L780.17,345.57L778.32,349.42L776.47,345.57ZM778.32,342.92L780.17,346.77L778.32,350.62L776.47,346.77ZM778.32,344.11L780.17,347.96L778.32,351.81L776.47,347.96ZM778.32,345.30L780.17,349.15L778.32,353.00L776.47,349.15ZM778.32,346.49L780.17,350.34L778.32,354.19L776.47,350.34ZM778.32,347.68L780.17,351.53L778.32,355.38L776.47,351.53ZM778.32,348.87L780.17,352.72L778.32,356.57L776.47,352.72ZM778.32,350.07L780.17,353.92L778.32,357.77L776.47,353.92ZM778.32,351.26L780.17,355.11L778.32,358.96L776.47,355.11ZM778.32,352.45L780.17,356.30L778.32,360.15L776.47,356.30ZM778.32,354.45L780.17,358.30L778.32,362.15L776.47,358.30ZM778.32,356.72L780.17,360.57L778.32,364.42L776.47,360.57ZM778.32,358.99L780.17,362.84L778.32,366.69L776.47,362.84ZM778.32,361.26L780.17,365.11L778.32,368.96L776.47,365.11ZM778.32,363.54L780.17,367.39L778.32,371.24L776.47,367.39ZM778.32,365.81L780.17,369.66L778.32,373.51L776.47,369.66ZM778.32,368.08L780.17,371.93L778.32,375.78L776.47,371.93ZM778.32,370.35L780.17,374.20L778.32,378.05L776.47,374.20ZM778.32,372.62L780.17,376.47L778.32,380.32L776.47,376.47ZM778.32,374.89L780.17,378.74L778.32,382.59L776.47,378.74ZM778.32,377.16L780.17,381.01L778.32,384.86L776.47,381.01ZM778.32,379.44L780.17,383.29L778.32,387.14L776.47,383.29ZM778.32,381.71L780.17,385.56L778.32,389.41L776.47,385.56ZM778.32,383.98L780.17,387.83L778.32,391.68L776.47,387.83ZM778.32,386.25L780.17,390.10L778.32,393.95L776.47,390.10ZM778.32,399.25L780.17,403.10L778.32,406.95L776.47,403.10ZM778.32,402.65L780.17,406.50L778.32,410.35L776.47,406.50Z" fill="#3f3f3f" stroke="#3f3f3f" stroke-width="0.85" stroke-linejoin="miter"/>
<ellipse cx="778.32" cy="542.90" rx="2.15" ry="3.9" fill="#3a3a3a"/>
<rect x="574.50" y="75.5" width="221.50" height="489.80" fill="none" stroke="#000" stroke-width="0.8"/>
<path d="M571.60,80.20H574.50" stroke="#222" stroke-width="0.8"/>
<text class="tk" transform="translate(567.55,83.90) scale(0.9,1.05)" text-anchor="end">20</text>
<path d="M571.60,167.50H574.50" stroke="#222" stroke-width="0.8"/>
<text class="tk" transform="translate(567.60,171.45) scale(0.9,1.05)" text-anchor="end">10</text>
<path d="M571.60,253.80H574.50" stroke="#222" stroke-width="0.8"/>
<text class="tk" transform="translate(568.45,257.85) scale(1.0,1.05)" text-anchor="end">0</text>
<path d="M571.60,341.40H574.50" stroke="#222" stroke-width="0.8"/>
<text class="tk" transform="translate(566.85,345.10) scale(0.915,1.05)" text-anchor="end">−10</text>
<path d="M571.60,428.40H574.50" stroke="#222" stroke-width="0.8"/>
<text class="tk" transform="translate(566.85,431.45) scale(0.915,1.05)" text-anchor="end">−20</text>
<path d="M571.60,514.90H574.50" stroke="#222" stroke-width="0.8"/>
<text class="tk" transform="translate(566.80,518.85) scale(0.915,1.05)" text-anchor="end">−30</text>
<path d="M593.50,565.3V568.70" stroke="#000" stroke-width="0.8"/>
<text class="tk" transform="translate(593.02,579.3) scale(0.95,1.05)" text-anchor="middle">7.0</text>
<path d="M630.50,565.3V568.70" stroke="#000" stroke-width="0.8"/>
<text class="tk" transform="translate(629.52,579.3) scale(0.95,1.05)" text-anchor="middle">8.0</text>
<path d="M667.50,565.3V568.70" stroke="#000" stroke-width="0.8"/>
<text class="tk" transform="translate(666.52,579.3) scale(0.95,1.05)" text-anchor="middle">9.0</text>
<path d="M704.50,565.3V568.70" stroke="#000" stroke-width="0.8"/>
<text class="tk" transform="translate(703.70,579.3) scale(0.95,1.05)" text-anchor="middle">10.0</text>
<path d="M741.50,565.3V568.70" stroke="#000" stroke-width="0.8"/>
<text class="tk" transform="translate(740.50,579.3) scale(0.95,1.05)" text-anchor="middle">11.0</text>
<path d="M778.50,565.3V568.70" stroke="#000" stroke-width="0.8"/>
<text class="tk" transform="translate(777.50,579.3) scale(0.95,1.05)" text-anchor="middle">12.0</text>
<text class="t" transform="translate(685.45,592.7) scale(0.986,1.03)" text-anchor="middle">active_months_lag12</text>
<text class="t" transform="translate(542.90,322.00) rotate(-90) scale(0.97,1)" text-anchor="middle">target</text>
</g>
</svg>
</body></html>
